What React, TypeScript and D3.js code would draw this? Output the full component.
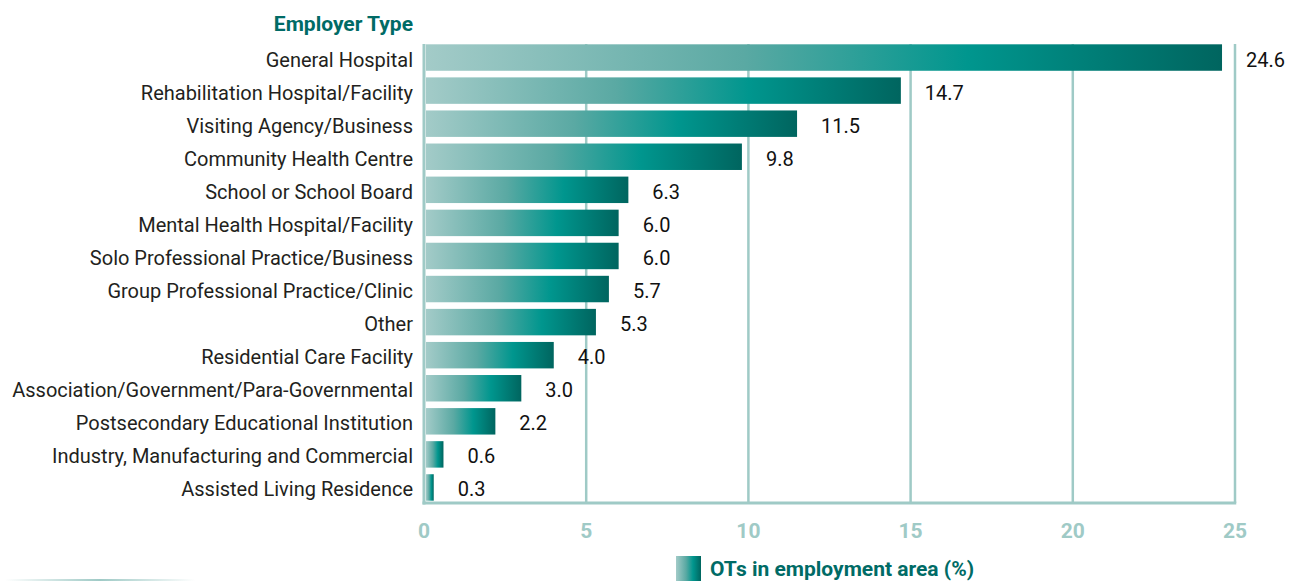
import React from "react";
import * as d3 from "d3";

const categories = [
  "General Hospital",
  "Rehabilitation Hospital/Facility",
  "Visiting Agency/Business",
  "Community Health Centre",
  "School or School Board",
  "Mental Health Hospital/Facility",
  "Solo Professional Practice/Business",
  "Group Professional Practice/Clinic",
  "Other",
  "Residential Care Facility",
  "Association/Government/Para-Governmental",
  "Postsecondary Educational Institution",
  "Industry, Manufacturing and Commercial",
  "Assisted Living Residence",
];
const values = [24.6, 14.7, 11.5, 9.8, 6.3, 6.0, 6.0, 5.7, 5.3, 4.0, 3.0, 2.2, 0.6, 0.3];
const ticks = [0, 5, 10, 15, 20, 25];
const title = "Employer Type";
const legendLabel = "OTs in employment area (%)";

const FONT = "'Liberation Sans Narrow', 'Roboto', sans-serif";
const LIGHT = "#9fcac6";

export default function App() {
  const x = d3.scaleLinear().domain([0, 25]).range([424, 1235]);
  const y = d3.scaleBand<string>().domain(categories).range([41, 504]).paddingInner(0.2).paddingOuter(0.1);
  const axisY = 503;
  const gridTop = 44;

  return (
    <svg width={1290} height={581} style={{ position: "absolute", left: 0, top: 0 }} fontFamily={FONT}>
      <defs>
        <linearGradient id="barGrad" x1="0" x2="1" y1="0" y2="0">
          <stop offset="0%" stopColor="#a3cbc8" />
          <stop offset="40%" stopColor="#5aa9a3" />
          <stop offset="68%" stopColor="#00968e" />
          <stop offset="100%" stopColor="#00655f" />
        </linearGradient>
        <linearGradient id="lineGrad" x1="0" x2="1" y1="0" y2="0">
          <stop offset="0%" stopColor={LIGHT} stopOpacity={0} />
          <stop offset="50%" stopColor={LIGHT} stopOpacity={1} />
          <stop offset="100%" stopColor={LIGHT} stopOpacity={0} />
        </linearGradient>
      </defs>

      {/* gridlines */}
      {ticks.slice(1).map((t) => (
        <line key={t} x1={x(t)} x2={x(t)} y1={gridTop} y2={axisY} stroke={LIGHT} strokeWidth={2.5} />
      ))}
      {/* axes */}
      <line x1={x(0)} x2={x(0)} y1={gridTop} y2={axisY + 1.5} stroke={LIGHT} strokeWidth={3} />
      <line x1={x(0) - 1.5} x2={x(25) + 1.25} y1={axisY} y2={axisY} stroke={LIGHT} strokeWidth={3} />

      {/* bars */}
      {categories.map((c, i) => (
        <g key={c}>
          <rect
            x={x(0) + 2}
            y={y(c)!}
            width={x(values[i]) - x(0) - 2}
            height={y.bandwidth()}
            fill="url(#barGrad)"
          />
          <text
            x={413}
            y={y(c)! + y.bandwidth() / 2 + 2}
            dy="0.35em"
            textAnchor="end"
            fontSize={20}
            fill="#231f20"
          >
            {c}
          </text>
          <text
            x={x(values[i]) + 24}
            y={y(c)! + y.bandwidth() / 2 + 2}
            dy="0.35em"
            fontSize={20}
            fill="#111"
          >
            {values[i].toFixed(1)}
          </text>
        </g>
      ))}

      {/* tick labels */}
      {ticks.map((t) => (
        <text key={t} x={x(t)} y={531} dy="0.35em" textAnchor="middle" fontSize={21} fontWeight="bold" fill={LIGHT}>
          {t}
        </text>
      ))}

      {/* title */}
      <text x={413} y={24} dy="0.35em" textAnchor="end" fontSize={21} fontWeight="bold" fill="#006b66">
        {title}
      </text>

      {/* legend */}
      <rect x={676} y={556} width={25} height={26} fill="url(#barGrad)" />
      <text x={710} y={576} fontSize={21} fontWeight="bold" fill="#006b66">
        {legendLabel}
      </text>

      {/* decorative line */}
      <rect x={5} y={579} width={190} height={2} fill="url(#lineGrad)" />
    </svg>
  );
}
